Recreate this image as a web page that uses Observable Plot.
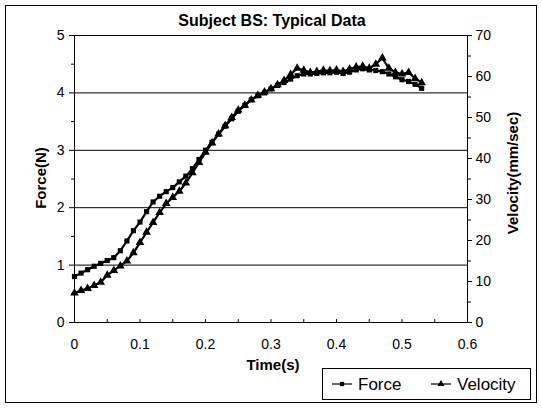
<!DOCTYPE html>
<html><head><meta charset="utf-8">
<script src="https://cdn.jsdelivr.net/npm/d3@7"></script>
<script src="https://cdn.jsdelivr.net/npm/@observablehq/plot@0.6"></script>
<style>
body{margin:0;background:#fff;}
#wrap{position:relative;width:542px;height:409px;}
</style></head><body><div id="wrap"></div>
<script>
const time = [0.00,0.01,0.02,0.03,0.04,0.05,0.06,0.07,0.08,0.09,0.10,0.11,0.12,0.13,0.14,0.15,0.16,0.17,0.18,0.19,0.20,0.21,0.22,0.23,0.24,0.25,0.26,0.27,0.28,0.29,0.30,0.31,0.32,0.33,0.34,0.35,0.36,0.37,0.38,0.39,0.40,0.41,0.42,0.43,0.44,0.45,0.46,0.47,0.48,0.49,0.50,0.51,0.52,0.53];
const force = [0.80,0.86,0.92,0.98,1.03,1.08,1.13,1.25,1.42,1.60,1.75,1.93,2.10,2.20,2.28,2.35,2.45,2.55,2.68,2.84,3.00,3.14,3.28,3.42,3.55,3.68,3.78,3.88,3.95,4.00,4.07,4.13,4.18,4.24,4.30,4.33,4.33,4.34,4.35,4.35,4.36,4.34,4.36,4.40,4.42,4.40,4.39,4.37,4.33,4.28,4.23,4.20,4.15,4.08];
const velocity = [7.2,7.8,8.3,9.0,9.8,11.5,12.7,13.8,15.0,17.0,19.5,22.0,24.4,26.8,29.0,30.5,32.0,34.0,36.5,39.0,41.5,43.8,46.0,48.0,50.0,51.8,53.0,54.3,55.4,56.2,57.0,58.0,59.0,60.5,62.0,61.5,61.0,61.2,61.5,61.4,61.6,61.2,61.8,62.3,62.5,62.0,63.0,64.5,62.0,61.0,60.6,61.0,59.5,58.5];
const forceTicks = [0,1,2,3,4,5];
const velocityTicks = [0,10,20,30,40,50,60,70];
const timeTicks = [0,0.1,0.2,0.3,0.4,0.5,0.6];
const timeTickLabels = ["0","0.1","0.2","0.3","0.4","0.5","0.6"];
const title = "Subject BS: Typical Data";
const xTitle = "Time(s)";
const yTitle = "Force(N)";
const y2Title = "Velocity(mm/sec)";
const seriesNames = ["Force","Velocity"];

const VEL_PER_N = 70 / 5; // right axis 0–70 mapped onto left axis 0–5
const FONT = '"Liberation Sans", Arial, Helvetica, sans-serif';

const rows = time.map((t, i) => ({t, f: force[i], v: velocity[i] / VEL_PER_N}));
const forceMinor = forceTicks.slice(0, -1).map(d => d + 0.5);
const velMinor = velocityTicks.slice(0, -1).map(d => (d + 5) / VEL_PER_N);
const timeMinor = timeTicks.slice(0, -1).map(d => d + 0.05);

const chart = Plot.plot({
  width: 542, height: 409,
  marginLeft: 74, marginRight: 75, marginTop: 35, marginBottom: 87,
  style: {fontFamily: FONT, fontSize: "14px", color: "#000", background: "#fff", overflow: "visible"},
  x: {domain: [0, 0.6]},
  y: {domain: [0, 5]},
  marks: [
    Plot.gridY(forceTicks.slice(1, -1), {stroke: "#000", strokeOpacity: 1, strokeWidth: 1}),
    Plot.frame({stroke: "#000", strokeWidth: 1}),
    Plot.axisY(forceMinor, {anchor: "left", tickSize: 3, tickFormat: () => "", label: null}),
    Plot.axisY(forceTicks, {anchor: "left", tickSize: 5, tickPadding: 5, label: null, fontSize: 14,
      tickFormat: d => String(d)}),
    Plot.axisY(velMinor, {anchor: "right", tickSize: 3, tickFormat: () => "", label: null}),
    Plot.axisY(velocityTicks.map(v => v / VEL_PER_N), {anchor: "right", tickSize: 4, tickPadding: 4, label: null, fontSize: 14,
      tickFormat: d => String(Math.round(d * VEL_PER_N))}),
    Plot.axisX(timeTicks, {anchor: "bottom", tickSize: 0, tickPadding: 17, label: null, fontSize: 14,
      tickFormat: (d, i) => timeTickLabels[i]}),
    Plot.ruleX(timeMinor.concat(timeTicks), {y1: 0, y2: 0.05, stroke: "#000"}),
    Plot.line(rows, {x: "t", y: "v", stroke: "#000", strokeWidth: 2.2}),
    Plot.dot(rows, {x: "t", y: "v", symbol: "triangle", r: 3.2, fill: "#000", stroke: "none"}),
    Plot.line(rows, {x: "t", y: "f", stroke: "#000", strokeWidth: 2.2}),
    Plot.dot(rows, {x: "t", y: "f", symbol: "square", r: 2.9, fill: "#000", stroke: "none"})
  ]
});
document.getElementById("wrap").appendChild(chart);

const svg = d3.select(chart);
// outer frame
svg.append("rect").attr("x", 5.5).attr("y", 5.5).attr("width", 531).attr("height", 397)
  .attr("fill", "none").attr("stroke", "#000");
// title
svg.append("text").attr("x", 272).attr("y", 20).attr("text-anchor", "middle").attr("dominant-baseline", "central")
  .attr("font-family", FONT).attr("font-weight", "bold").attr("font-size", 16).text(title);
// axis titles
svg.append("text").attr("x", 273).attr("y", 364).attr("text-anchor", "middle").attr("dominant-baseline", "central")
  .attr("font-family", FONT).attr("font-weight", "bold").attr("font-size", 15).text(xTitle);
svg.append("text").attr("transform", "translate(40,178) rotate(-90)").attr("text-anchor", "middle").attr("dominant-baseline", "central")
  .attr("font-family", FONT).attr("font-weight", "bold").attr("font-size", 15).text(yTitle);
svg.append("text").attr("transform", "translate(512,173) rotate(-90)").attr("text-anchor", "middle").attr("dominant-baseline", "central")
  .attr("font-family", FONT).attr("font-weight", "bold").attr("font-size", 15).text(y2Title);
// legend
const lg = svg.append("g");
lg.append("rect").attr("x", 322.5).attr("y", 368.5).attr("width", 208).attr("height", 31).attr("fill", "#fff").attr("stroke", "#000");
const sym = [d3.symbolSquare, d3.symbolTriangle];
const lx = [332, 431];
seriesNames.forEach((name, i) => {
  lg.append("line").attr("x1", lx[i]).attr("x2", lx[i] + 20).attr("y1", 384).attr("y2", 384).attr("stroke", "#000").attr("stroke-width", 1.2);
  lg.append("path").attr("d", d3.symbol(sym[i], i ? 22 : 18)()).attr("transform", `translate(${lx[i] + 10},384)`).attr("fill", "#000");
  lg.append("text").attr("x", lx[i] + 26).attr("y", 384).attr("text-anchor", "start").attr("dominant-baseline", "central")
    .attr("font-family", FONT).attr("font-size", 17).text(name);
});
</script></body></html>
